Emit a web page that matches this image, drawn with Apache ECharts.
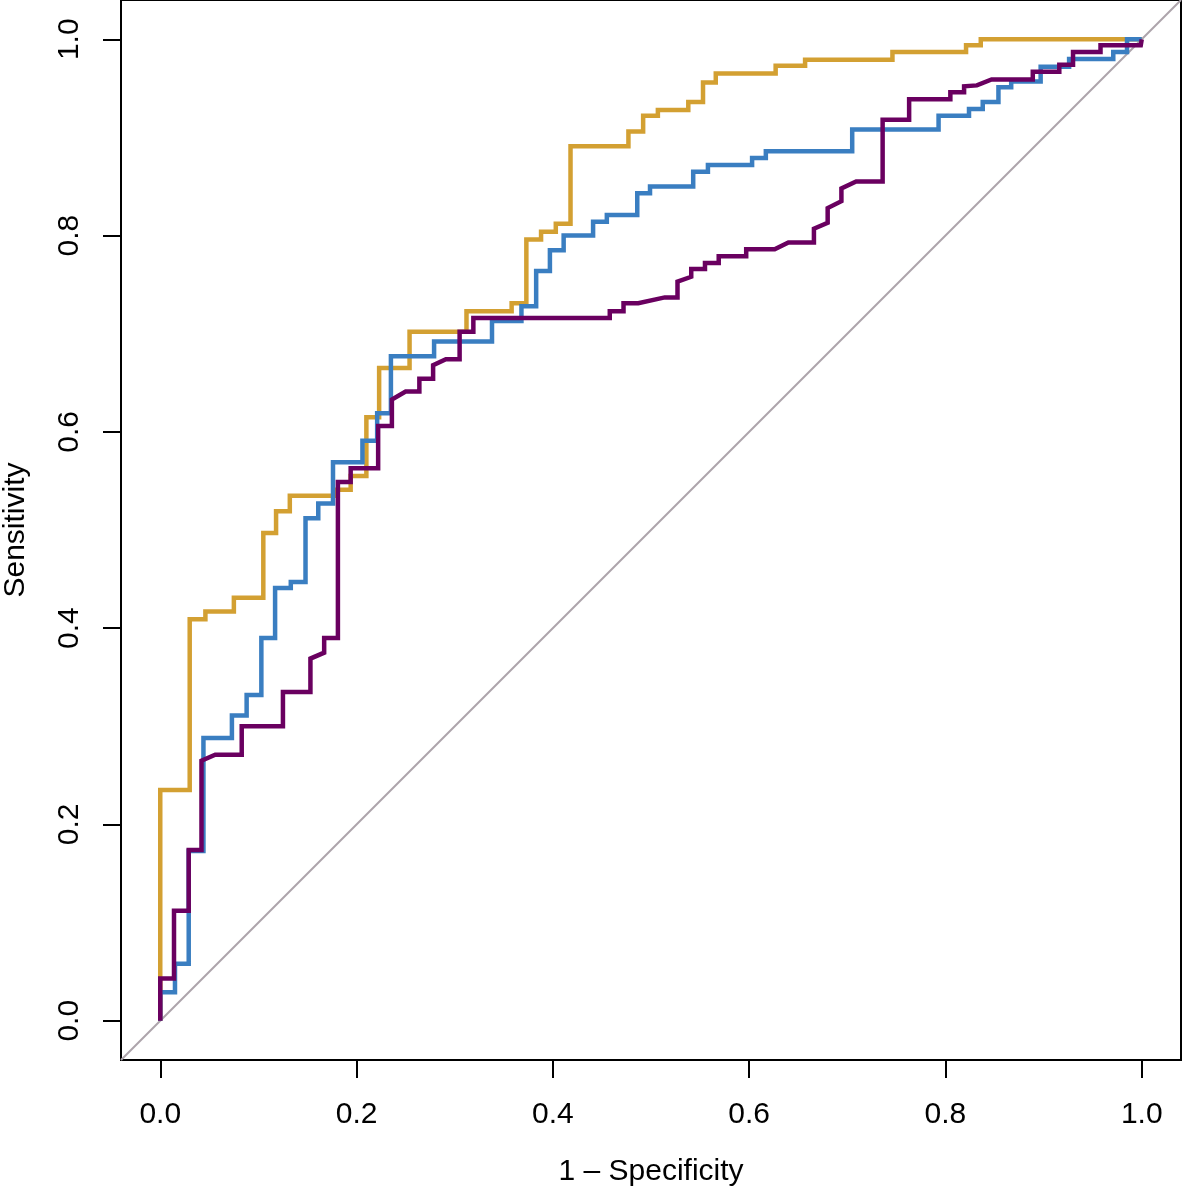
<!DOCTYPE html>
<html>
<head>
<meta charset="utf-8">
<script src="https://cdn.jsdelivr.net/npm/echarts@6/dist/echarts.min.js"></script>
<style>
  html, body { margin: 0; padding: 0; background: #fff; }
  #chart { width: 1182px; height: 1188px; }
</style>
</head>
<body>
<div id="chart"></div>
<script>
// ---- data (vertices of the ROC step curves: [1 - specificity, sensitivity]) ----
const goldCurve = [
  [0,0],[0,0.235],[0.030,0.235],[0.030,0.409],[0.046,0.409],[0.046,0.417],[0.075,0.417],[0.075,0.431],
  [0.105,0.431],[0.105,0.497],[0.118,0.497],[0.118,0.519],[0.132,0.519],[0.132,0.535],[0.177,0.535],
  [0.177,0.541],[0.194,0.541],[0.194,0.555],[0.210,0.555],[0.210,0.615],[0.223,0.615],[0.223,0.665],
  [0.254,0.665],[0.254,0.702],[0.312,0.702],[0.312,0.723],[0.358,0.723],[0.358,0.731],[0.373,0.731],
  [0.373,0.796],[0.388,0.796],[0.388,0.804],[0.403,0.804],[0.403,0.812],[0.418,0.812],[0.418,0.891],
  [0.477,0.891],[0.477,0.906],[0.492,0.906],[0.492,0.922],[0.507,0.922],[0.507,0.928],[0.538,0.928],
  [0.538,0.936],[0.553,0.936],[0.553,0.956],[0.566,0.956],[0.566,0.965],[0.627,0.965],[0.627,0.973],
  [0.657,0.973],[0.657,0.979],[0.746,0.979],[0.746,0.987],[0.821,0.987],[0.821,0.994],[0.836,0.994],
  [0.836,1],[1,1]
];
const blueCurve = [
  [0,0],[0,0.029],[0.015,0.029],[0.015,0.058],[0.029,0.058],[0.029,0.173],[0.044,0.173],[0.044,0.288],
  [0.073,0.288],[0.073,0.311],[0.088,0.311],[0.088,0.332],[0.103,0.332],[0.103,0.390],[0.117,0.390],
  [0.117,0.441],[0.133,0.441],[0.133,0.447],[0.148,0.447],[0.148,0.512],[0.161,0.512],[0.161,0.527],
  [0.176,0.527],[0.176,0.569],[0.206,0.569],[0.206,0.591],[0.221,0.591],[0.221,0.619],[0.235,0.619],
  [0.235,0.677],[0.279,0.677],[0.279,0.692],[0.338,0.692],[0.338,0.713],[0.368,0.713],[0.368,0.728],
  [0.383,0.728],[0.383,0.764],[0.397,0.764],[0.397,0.785],[0.411,0.785],[0.411,0.800],[0.441,0.800],
  [0.441,0.814],[0.455,0.814],[0.455,0.821],[0.486,0.821],[0.486,0.843],[0.499,0.843],[0.499,0.850],
  [0.543,0.850],[0.543,0.865],[0.558,0.865],[0.558,0.872],[0.603,0.872],[0.603,0.879],[0.617,0.879],
  [0.617,0.886],[0.705,0.886],[0.705,0.908],[0.793,0.908],[0.793,0.922],[0.824,0.922],[0.824,0.929],
  [0.838,0.929],[0.838,0.936],[0.854,0.936],[0.854,0.951],[0.867,0.951],[0.867,0.957],[0.897,0.957],
  [0.897,0.972],[0.926,0.972],[0.926,0.980],[0.971,0.980],[0.971,0.987],[0.985,0.987],[0.985,1],[1,1]
];
const purpleCurve = [
  [0,0],[0,0.043],[0.014,0.043],[0.014,0.112],[0.029,0.112],[0.029,0.174],[0.042,0.174],[0.042,0.265],
  [0.056,0.271],[0.083,0.271],[0.083,0.300],[0.125,0.300],[0.125,0.335],[0.153,0.335],[0.153,0.369],
  [0.167,0.375],[0.167,0.390],[0.181,0.390],[0.181,0.549],[0.194,0.549],[0.194,0.563],[0.222,0.563],
  [0.222,0.606],[0.236,0.606],[0.236,0.633],[0.250,0.641],[0.264,0.641],[0.264,0.654],[0.278,0.654],
  [0.278,0.668],[0.291,0.674],[0.305,0.674],[0.305,0.702],[0.319,0.702],[0.319,0.716],[0.458,0.716],
  [0.458,0.723],[0.472,0.723],[0.472,0.731],[0.487,0.731],[0.514,0.737],[0.527,0.737],[0.527,0.753],
  [0.541,0.758],[0.541,0.766],[0.555,0.766],[0.555,0.772],[0.569,0.772],[0.569,0.779],[0.597,0.779],
  [0.597,0.786],[0.626,0.786],[0.640,0.793],[0.666,0.793],[0.666,0.807],[0.680,0.813],[0.680,0.828],
  [0.694,0.835],[0.694,0.848],[0.709,0.855],[0.736,0.855],[0.736,0.918],[0.763,0.918],[0.763,0.939],
  [0.805,0.939],[0.805,0.946],[0.819,0.946],[0.819,0.952],[0.832,0.953],[0.847,0.959],[0.889,0.959],
  [0.889,0.967],[0.916,0.967],[0.916,0.974],[0.930,0.974],[0.930,0.987],[0.958,0.987],[0.958,0.994],
  [0.999,0.994],[1,1]
];
// identity (chance) line across the full plotting range
const identityLine = [[-0.04,-0.04],[1.04,1.04]];
const tickValues = [0, 0.2, 0.4, 0.6, 0.8, 1.0];
const xTitle = '1 \u2013 Specificity';
const yTitle = 'Sensitivity';

const FONT = '"Liberation Sans", Arial, Helvetica, sans-serif';
const chart = echarts.init(document.getElementById('chart'), null, {renderer: 'canvas'});

function axisCommon(name) {
  return {
    type: 'value',
    min: -0.04,
    max: 1.04,
    name: name,
    nameLocation: 'middle',
    nameTextStyle: { fontFamily: FONT, fontSize: 30, color: '#000' },
    axisLine: { show: false, onZero: false },
    splitLine: { show: false },
    axisTick: {
      show: true, length: 18, inside: false,
      customValues: tickValues,
      lineStyle: { color: '#000', width: 2 }
    },
    axisLabel: {
      show: true, customValues: tickValues, margin: 36,
      fontFamily: FONT, fontSize: 30, color: '#000',
      formatter: v => Number(v).toFixed(1)
    }
  };
}

const xAxis = axisCommon(xTitle);
xAxis.nameGap = 97;
xAxis.position = 'bottom';
xAxis.axisLabel.margin = 40;
const yAxis = axisCommon(yTitle);
yAxis.nameGap = 90;
yAxis.nameRotate = 90;
yAxis.position = 'left';
yAxis.axisLabel.rotate = 90;

function curve(data, color, z) {
  return {
    type: 'line', data: data, symbol: 'none', showSymbol: false, z: z,
    lineStyle: { color: color, width: 4.5, cap: 'butt', join: 'miter' },
    emphasis: { disabled: true }, silent: true
  };
}

chart.setOption({
  animation: false,
  backgroundColor: '#fff',
  grid: {
    left: 121, right: 1, top: 0, bottom: 128,
    containLabel: false,
    outerBoundsMode: 'none',
    show: true, borderColor: '#000', borderWidth: 2, backgroundColor: 'transparent'
  },
  xAxis: xAxis,
  yAxis: yAxis,
  series: [
    { type: 'line', data: identityLine, symbol: 'none', z: 1, silent: true,
      lineStyle: { color: '#ada4ab', width: 2 } },
    curve(goldCurve, '#D3A032', 2),
    curve(blueCurve, '#3A7EC1', 3),
    curve(purpleCurve, '#6A0060', 4)
  ]
});
</script>
</body>
</html>
